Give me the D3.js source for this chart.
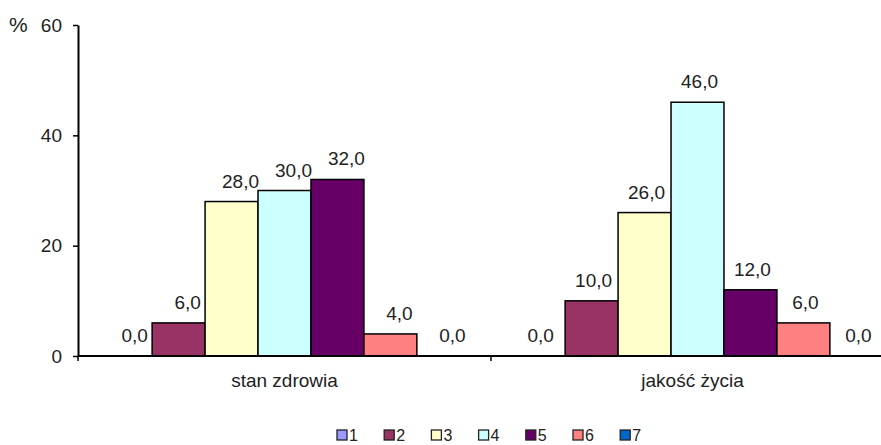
<!DOCTYPE html>
<html><head><meta charset="utf-8">
<script src="https://cdn.jsdelivr.net/npm/d3@7"></script>
<style>
html,body{margin:0;padding:0;background:#fff;}
text{font-family:"Liberation Sans",Arial,sans-serif;fill:#222;}
</style></head>
<body>
<svg id="c" width="881" height="445"></svg>
<script>
const categories = ["stan zdrowia", "jakość życia"];
const seriesNames = ["1", "2", "3", "4", "5", "6", "7"];
const seriesColors = ["#9999FF", "#993366", "#FFFFCC", "#CCFFFF", "#660066", "#FF8080", "#0066CC"];
const valuesStanZdrowia = [0, 6, 28, 30, 32, 4, 0];
const valuesJakoscZycia = [0, 10, 26, 46, 12, 6, 0];
const yTicks = [0, 20, 40, 60];
const yUnit = "%";

(function () {
const seriesValues = [valuesStanZdrowia, valuesJakoscZycia];
const svg = d3.select("#c");
const W = 881;
const mLeft = 78, mTop = 25, mBottom = 356;

const y = d3.scaleLinear().domain([0, 60]).range([mBottom, mTop]);
const x0 = d3.scaleBand().domain(categories).range([mLeft, mLeft + 826]).paddingInner(0).paddingOuter(0);
const x1 = d3.scaleBand().domain(seriesNames).range([0, x0.bandwidth()]).paddingInner(0).paddingOuter(0.4);
const color = d3.scaleOrdinal().domain(seriesNames).range(seriesColors);

// bars
const groups = svg.append("g").selectAll("g").data(categories).join("g")
  .attr("transform", c => `translate(${x0(c)},0)`);
groups.selectAll("rect")
  .data((c, ci) => seriesNames.map((s, si) => ({s, v: seriesValues[ci][si]})).filter(d => d.v > 0))
  .join("rect")
  .attr("x", d => x1(d.s))
  .attr("y", d => y(d.v))
  .attr("width", x1.bandwidth())
  .attr("height", d => y(0) - y(d.v))
  .attr("fill", d => color(d.s))
  .attr("stroke", "#000")
  .attr("stroke-width", 1.5);

groups.selectAll("text.lbl")
  .data((c, ci) => seriesNames.map((s, si) => ({s, v: seriesValues[ci][si], ci})))
  .join("text").attr("class", "lbl")
  .attr("x", d => x1(d.s) + x1.bandwidth() / 2 + (d.ci === 0 ? 9 : 2))
  .attr("y", d => y(d.v) - 14)
  .attr("text-anchor", "middle")
  .attr("font-size", 19)
  .text(d => d3.format(".1f")(d.v).replace(".", ","));

// y axis
const yAxis = svg.append("g").attr("transform", `translate(${mLeft},0)`)
  .call(d3.axisLeft(y).tickValues(yTicks).tickSize(5).tickSizeOuter(0).tickPadding(11).tickFormat(d3.format("d")));
yAxis.select(".domain").attr("stroke", "#000").attr("stroke-width", 2);
yAxis.selectAll(".tick line").attr("stroke", "#000").attr("stroke-width", 1.5);
yAxis.selectAll(".tick text").attr("font-size", 19).attr("fill", "#222")
  .attr("font-family", "Liberation Sans, Arial, sans-serif");

svg.append("text").attr("x", 9).attr("y", y(60)).attr("dy", "0.32em")
  .attr("font-size", 21).text(yUnit);

// x axis
svg.append("line").attr("x1", mLeft).attr("x2", W).attr("y1", y(0)).attr("y2", y(0))
  .attr("stroke", "#000").attr("stroke-width", 2);
svg.append("g").selectAll("line").data(categories).join("line")
  .attr("x1", c => x0(c)).attr("x2", c => x0(c))
  .attr("y1", y(0)).attr("y2", y(0) + 5)
  .attr("stroke", "#000").attr("stroke-width", 1.5);
svg.append("g").selectAll("text").data(categories).join("text")
  .attr("x", c => x0(c) + x0.bandwidth() / 2 - (c === categories[1] ? 5 : 0))
  .attr("y", 387)
  .attr("text-anchor", "middle")
  .attr("font-size", 19)
  .text(c => c);

// legend
const legend = svg.append("g").attr("transform", "translate(337,430)");
const li = legend.selectAll("g").data(seriesNames).join("g")
  .attr("transform", (d, i) => `translate(${i * 47.2},0)`);
li.append("rect").attr("width", 10).attr("height", 10)
  .attr("fill", d => color(d)).attr("stroke", "#222").attr("stroke-width", 1.3);
li.append("text").attr("x", 12).attr("y", 11).attr("font-size", 16).text(d => d);
})();
</script>
</body></html>
